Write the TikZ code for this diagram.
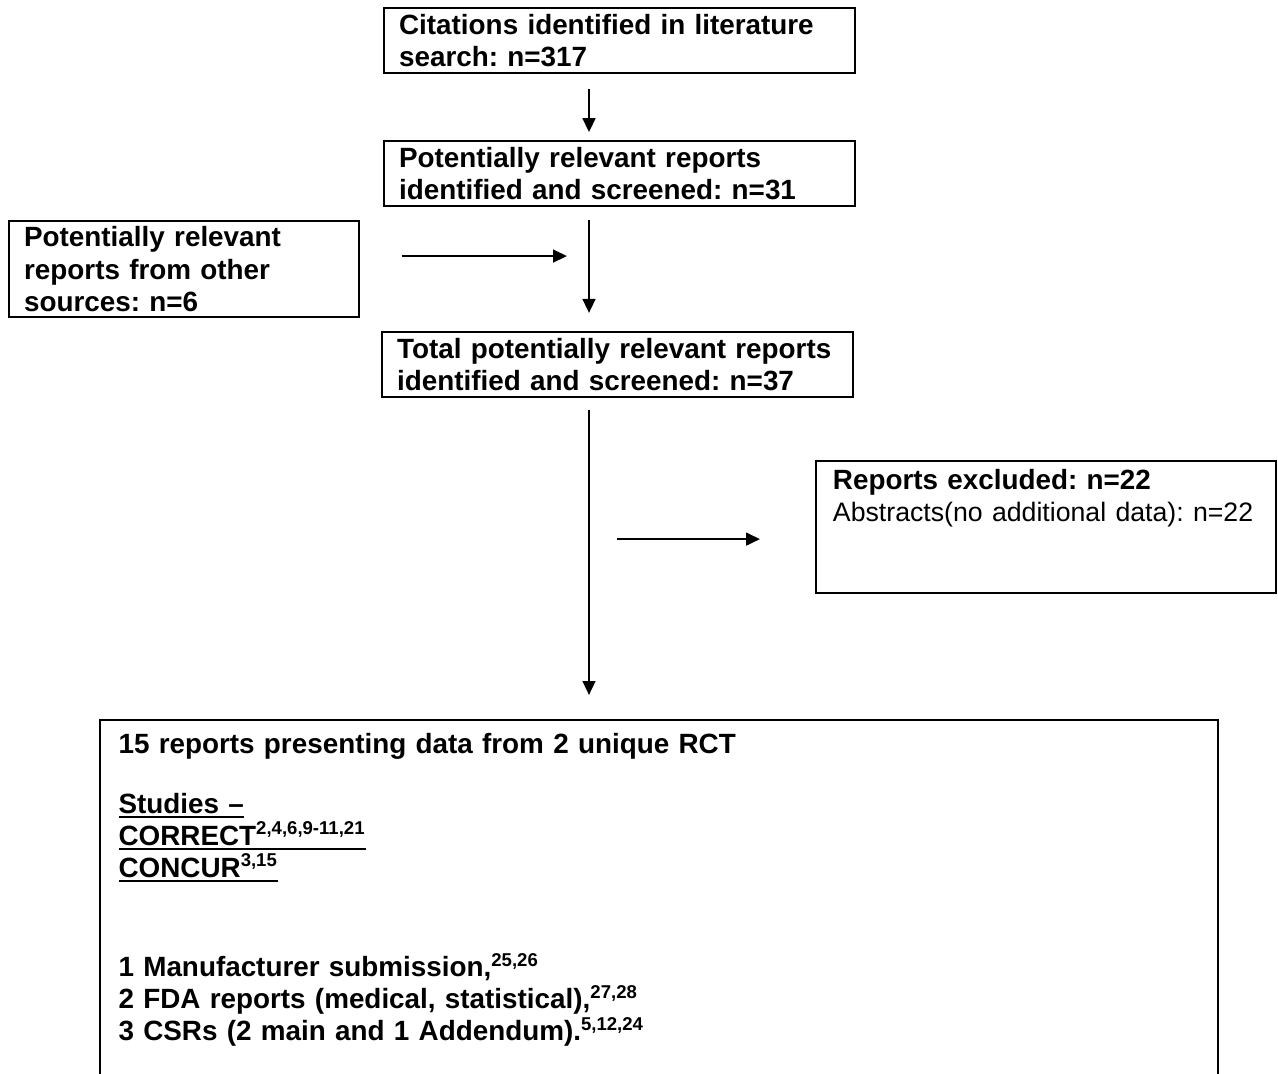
\documentclass[tikz,border=0pt]{standalone}
\usepackage{fontspec}
\setmainfont{Liberation Sans}
\frenchspacing
\usetikzlibrary{arrows.meta, calc, positioning}
\tikzstyle{box} = [rectangle, line width=0.9pt, draw=black, anchor=north west, align=left, font=\fontsize{12pt}{13.8pt}\selectfont\bfseries, inner xsep=6.5pt, inner ysep=0pt]
\tikzstyle{openbox} = [rectangle, anchor=north west, align=left, font=\fontsize{12pt}{13.8pt}\selectfont\bfseries, inner xsep=7.8pt, inner ysep=5.4pt]
\tikzstyle{arrow} = [line width=0.9pt, -{Triangle[length=6pt, width=5.5pt]}]
\newsavebox{\studybox}
\newcommand{\studyline}[1]{\leavevmode\sbox{\studybox}{#1}\rlap{\rule[-2.2pt]{\wd\studybox}{1.1pt}}\usebox{\studybox}}

\begin{document}
\begin{tikzpicture}[x=0.431pt, y=-0.431pt]
		\useasboundingbox (0,0) rectangle (1278,1074);
		\node (Citations) [box, text width=190pt, minimum height=28pt] at (383,7) {Citations identified in literature\\search: n=317};
		\node (Relevant) [box, text width=190pt, minimum height=28pt] at (383,140) {Potentially relevant reports\\identified and screened: n=31};
		\node (Other) [box, text width=138pt, minimum height=41.4pt] at (8,220) {Potentially relevant\\reports from other\\sources: n=6};
		\node (Total) [box, text width=190pt, minimum height=28pt] at (381,331) {Total potentially relevant reports\\identified and screened: n=37};
		\node (Excluded) [box, font=\fontsize{12pt}{13.8pt}\selectfont\mdseries, inner xsep=7.3pt, text width=183.7pt, minimum height=56.9pt] at (815,460) {\textbf{Reports excluded: n=22}\\{\fontsize{11.5pt}{13.8pt}\selectfont Abstracts(no additional data): n=22}\\[13.8pt]\mbox{}};
		\node (Included) [openbox, text width=466pt] at (100,720) {15 reports presenting data from 2 unique RCT\\[12pt]
			\studyline{Studies --}\\
			\studyline{CORRECT\textsuperscript{2,4,6,9-11,21}}\\
			\studyline{CONCUR\textsuperscript{3,15}}\\[29pt]
			1 Manufacturer submission,\textsuperscript{25,26}\\
			2 FDA reports (medical, statistical),\textsuperscript{27,28}\\
			3 CSRs (2 main and 1 Addendum).\textsuperscript{5,12,24}};
		
		\coordinate (Spine) at (589,0);
		\coordinate (Edge) at (0,1074);
		\coordinate (OtherOut) at ([yshift=5.6pt]Other.east);
		\coordinate (ExclIn) at ([yshift=-5.2pt]Excluded.west);
		
		\draw [line width=0.9pt] (Included.north west |- Edge) -- (Included.north west) -- (Included.north east) -- (Included.north east |- Edge);
		
		\draw [arrow, shorten <=6.5pt, shorten >=3.4pt] (Citations.south -| Spine) -- (Relevant.north -| Spine);
		\draw [arrow, shorten <=5.6pt, shorten >=7.8pt] (Relevant.south -| Spine) -- (Total.north -| Spine);
		\draw [arrow, shorten <=17.7pt, shorten >=9.5pt] (OtherOut) -- (OtherOut -| Spine);
		\draw [arrow, shorten <=5.2pt, shorten >=10.8pt] (Total.south -| Spine) -- (Included.north -| Spine);
		\draw [arrow, shorten <=12pt, shorten >=23.7pt] (ExclIn -| Spine) -- (ExclIn);
\end{tikzpicture}
\end{document}
